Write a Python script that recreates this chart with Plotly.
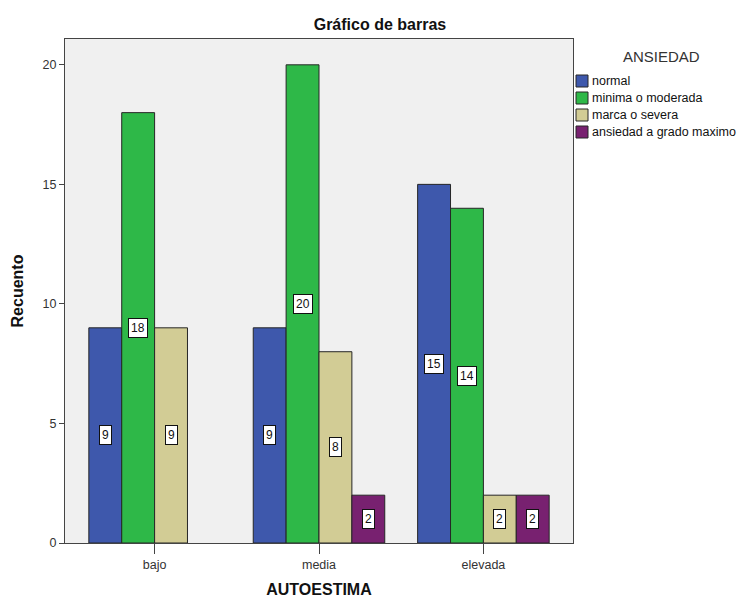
import plotly.graph_objects as go

# Recuento por nivel de autoestima y ansiedad
categorias = ["bajo", "media", "elevada"]
series = ["normal", "minima o moderada", "marca o severa", "ansiedad a grado maximo"]
normal = [9, 9, 15]
minima_moderada = [18, 20, 14]
marca_severa = [9, 8, 2]
grado_maximo = [None, 2, 2]
colores = ["#3e58ac", "#2eb848", "#d2cc95", "#782170"]
titulo_leyenda = "ANSIEDAD"

valores = [normal, minima_moderada, marca_severa, grado_maximo]

W, H = 745, 598
M = dict(l=65, r=172, t=39, b=55)
FUENTE = "Liberation Sans, Arial, sans-serif"

fig = go.Figure()
for nombre, vals, color in zip(series, valores, colores):
    fig.add_trace(go.Bar(
        x=categorias, y=vals, name=nombre, showlegend=False,
        marker=dict(color=color, line=dict(color="#262626", width=1)),
    ))

# Etiquetas de valor centradas en cada barra
n = len(series)
grupo = 0.8
ancho = grupo / n
anotaciones = []
for j, vals in enumerate(valores):
    desplazamiento = -grupo / 2 + ancho * (j + 0.5)
    for i, v in enumerate(vals):
        if v is None:
            continue
        anotaciones.append(dict(
            x=i + desplazamiento, y=v / 2, xref="x", yref="y",
            text=str(v), showarrow=False,
            font=dict(family=FUENTE, size=12, color="#111"),
            bgcolor="white", bordercolor="#111", borderwidth=1, borderpad=2,
        ))

# Leyenda dibujada a la derecha del área de trazado
ancho_plot = W - M["l"] - M["r"]
alto_plot = H - M["t"] - M["b"]


def px_a_papel_x(px):
    return (px - M["l"]) / ancho_plot


def px_a_papel_y(py):
    return (H - M["b"] - py) / alto_plot


formas = []
anotaciones.append(dict(
    text=titulo_leyenda, x=px_a_papel_x(661), y=px_a_papel_y(56),
    xref="paper", yref="paper", xanchor="center", yanchor="middle",
    showarrow=False, font=dict(family=FUENTE, size=15, color="#333"),
))
for k, (nombre, color) in enumerate(zip(series, colores)):
    yc = 81 + 17 * k
    formas.append(dict(
        type="rect", xref="paper", yref="paper",
        x0=px_a_papel_x(576), x1=px_a_papel_x(588),
        y0=px_a_papel_y(yc - 6), y1=px_a_papel_y(yc + 6),
        fillcolor=color, line=dict(color="#262626", width=1),
    ))
    anotaciones.append(dict(
        text=nombre, x=px_a_papel_x(590), y=px_a_papel_y(yc),
        xref="paper", yref="paper", xanchor="left", yanchor="middle",
        showarrow=False, font=dict(family=FUENTE, size=12.5, color="#111"),
    ))

fig.update_layout(
    width=W, height=H,
    margin=dict(**M, autoexpand=False),
    paper_bgcolor="white", plot_bgcolor="#f0f0f0",
    barmode="group", bargap=0.2, bargroupgap=0,
    font=dict(family=FUENTE, size=12, color="#333"),
    title=dict(text="<b>Gráfico de barras</b>", x=0.51, xanchor="center",
               y=1 - 24 / H, yanchor="middle",
               font=dict(size=16, color="#111")),
    xaxis=dict(
        range=[-0.545, 2.545], showline=True, linecolor="#444", linewidth=1,
        mirror=True, ticks="outside", ticklen=10, tickcolor="#444",
        tickfont=dict(size=12.5, color="#333"), automargin=False,
        title=dict(text="<b>AUTOESTIMA</b>", font=dict(size=16, color="#111"), standoff=19),
        showgrid=False,
    ),
    yaxis=dict(
        range=[0, 21.08], showline=True, linecolor="#444", linewidth=1,
        mirror=True, ticks="outside", ticklen=5, tickcolor="#444",
        tickvals=[0, 5, 10, 15, 20], tickfont=dict(size=12.5, color="#333"),
        automargin=False,
        title=dict(text="<b>Recuento</b>", font=dict(size=16, color="#111"), standoff=14),
        showgrid=False, zeroline=False,
    ),
    shapes=formas,
    annotations=anotaciones,
    showlegend=False,
)

fig.write_html("out.html")
